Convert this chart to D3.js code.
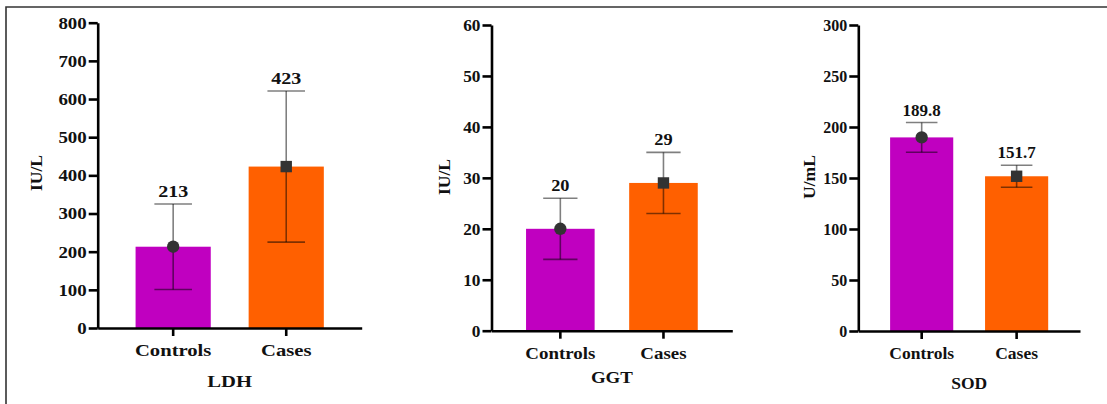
<!DOCTYPE html>
<html>
<head>
<meta charset="utf-8">
<script src="https://cdn.jsdelivr.net/npm/d3@7"></script>
<style>
  body { margin: 0; background: #fff; }
  svg text { font-family: "Liberation Serif", "DejaVu Serif", serif; font-weight: bold; fill: #111; }
</style>
</head>
<body>
<div id="chart"></div>
<script>
// data
const categories = ['Controls', 'Cases'];
const panelNames = ['LDH', 'GGT', 'SOD'];
const units = ['IU/L', 'IU/L', 'U/mL'];
const ldhMean = [213, 423];
const ldhSD = [112, 198];
const ggtMean = [20, 29];
const ggtSD = [6, 6];
const sodMean = [189.8, 151.7];
const sodSD = [14.6, 10.8];
const yMax = [800, 60, 300];
const yStep = [100, 10, 50];

const barColors = ['#c000c0', '#ff6000'];
const serif = '"Liberation Serif", "DejaVu Serif", serif';

// layout of each panel (pixels)
const layout = [
  { x0: 97.7, x1: 361.7, yTop: 22.7, yBot: 328, unitX: 42, unitY: 173, titleY: 387, sx: 1.18 },
  { x0: 491.5, x1: 732.3, yTop: 25, yBot: 330.7, unitX: 450, unitY: 177, titleY: 383, sx: 1.08 },
  { x0: 858.3, x1: 1080, yTop: 25, yBot: 331, unitX: 815, unitY: 177, titleY: 389, sx: 1.0 }
];

const means = [ldhMean, ggtMean, sodMean];
const sds = [ldhSD, ggtSD, sodSD];

const svg = d3.select('#chart').append('svg')
  .attr('width', 1107).attr('height', 404);

// outer frame (only top and left edges show)
svg.append('path')
  .attr('d', 'M6,404 V7 H1107')
  .attr('fill', 'none')
  .attr('stroke', '#333')
  .attr('stroke-width', 1.6);

panelNames.forEach((name, p) => {
  const L = layout[p];
  const g = svg.append('g');

  const x = d3.scaleBand().domain(categories).range([L.x0, L.x1]).padding(0.335);
  const y = d3.scaleLinear().domain([0, yMax[p]]).range([L.yBot, L.yTop]);

  const rows = categories.map((c, i) => ({ cat: c, mean: means[p][i], sd: sds[p][i], i }));

  // bars
  g.selectAll('.bar').data(rows).join('rect')
    .attr('x', d => x(d.cat))
    .attr('y', d => y(d.mean))
    .attr('width', x.bandwidth())
    .attr('height', d => y(0) - y(d.mean))
    .attr('fill', d => barColors[d.i]);

  // error bars
  const cap = x.bandwidth() * 0.5;
  const eb = g.selectAll('.err').data(rows).join('g')
    .attr('stroke', '#000').attr('stroke-opacity', 0.5).attr('stroke-width', 1.6);
  eb.append('line')
    .attr('x1', d => x(d.cat) + x.bandwidth() / 2).attr('x2', d => x(d.cat) + x.bandwidth() / 2)
    .attr('y1', d => y(d.mean - d.sd)).attr('y2', d => y(d.mean + d.sd));
  eb.append('line')
    .attr('x1', d => x(d.cat) + x.bandwidth() / 2 - cap / 2).attr('x2', d => x(d.cat) + x.bandwidth() / 2 + cap / 2)
    .attr('y1', d => y(d.mean + d.sd)).attr('y2', d => y(d.mean + d.sd));
  eb.append('line')
    .attr('x1', d => x(d.cat) + x.bandwidth() / 2 - cap / 2).attr('x2', d => x(d.cat) + x.bandwidth() / 2 + cap / 2)
    .attr('y1', d => y(d.mean - d.sd)).attr('y2', d => y(d.mean - d.sd));

  // markers: circle for controls, square for cases
  g.selectAll('.mk').data(rows).join('path')
    .attr('transform', d => `translate(${x(d.cat) + x.bandwidth() / 2},${y(d.mean)})`)
    .attr('d', d => d3.symbol().type(d.i === 0 ? d3.symbolCircle : d3.symbolSquare).size(d.i === 0 ? 120 : 130)())
    .attr('fill', '#333');

  // value labels
  g.selectAll('.val').data(rows).join('text')
    .attr('transform', d => `translate(${x(d.cat) + x.bandwidth() / 2},${y(d.mean + d.sd) - 7}) scale(${L.sx},1)`)
    .attr('text-anchor', 'middle')
    .style('font-size', '17px')
    .text(d => d.mean);

  // y axis
  const yAxis = d3.axisLeft(y)
    .tickValues(d3.range(0, yMax[p] + 1, yStep[p]))
    .tickSize(9).tickSizeOuter(0).tickPadding(2);
  const ya = g.append('g').attr('transform', `translate(${L.x0},0)`).call(yAxis)
    .attr('font-family', serif);
  ya.select('.domain').attr('stroke', '#000').attr('stroke-width', 2.6);
  ya.selectAll('.tick line').attr('stroke', '#000').attr('stroke-width', 2.6);
  ya.selectAll('.tick text')
    .attr('x', null).attr('dy', null)
    .attr('transform', `translate(-11,5.4) scale(${L.sx},1)`)
    .style('font-size', '16px').style('fill', '#111');

  // x axis
  const xAxis = d3.axisBottom(x).tickSize(8).tickSizeOuter(0);
  const xa = g.append('g').attr('transform', `translate(0,${L.yBot})`).call(xAxis)
    .attr('font-family', serif);
  xa.select('.domain').attr('stroke', '#000').attr('stroke-width', 2.6);
  xa.selectAll('.tick line').attr('stroke', '#000').attr('stroke-width', 2.6);
  xa.selectAll('.tick text')
    .attr('y', null).attr('dy', null)
    .attr('transform', `translate(0,28) scale(${L.sx},1)`)
    .style('font-size', '17.5px').style('fill', '#111');

  // unit label
  g.append('text')
    .attr('transform', `translate(${L.unitX},${L.unitY}) rotate(-90)`)
    .attr('text-anchor', 'middle')
    .style('font-size', '17.5px')
    .text(units[p]);

  // panel name
  g.append('text')
    .attr('transform', `translate(${(L.x0 + L.x1) / 2},${L.titleY}) scale(${L.sx},1)`)
    .attr('text-anchor', 'middle')
    .style('font-size', '17.5px')
    .text(name);
});
</script>
</body>
</html>
